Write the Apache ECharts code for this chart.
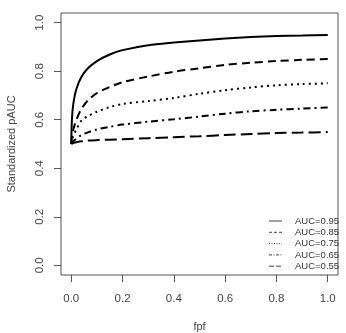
<!DOCTYPE html>
<html>
<head>
<meta charset="utf-8">
<script src="https://cdn.jsdelivr.net/npm/echarts@6/dist/echarts.min.js"></script>
<style>html,body{margin:0;padding:0;background:#fff}#c{width:346px;height:333px}</style>
</head>
<body>
<div id="c"></div>
<script>
var fpf = [0, 0.0025, 0.008, 0.02, 0.04, 0.065, 0.1, 0.15, 0.2, 0.3, 0.4, 0.5, 0.6, 0.7, 0.8, 0.9, 1.0];
var auc95 = [0.50, 0.600, 0.665, 0.727, 0.777, 0.812, 0.842, 0.869, 0.887, 0.907, 0.918, 0.927, 0.935, 0.941, 0.945, 0.947, 0.949];
var auc85 = [0.50, 0.530, 0.560, 0.600, 0.645, 0.680, 0.710, 0.735, 0.755, 0.778, 0.798, 0.812, 0.826, 0.835, 0.842, 0.847, 0.850];
var auc75 = [0.50, 0.515, 0.535, 0.560, 0.597, 0.615, 0.633, 0.652, 0.665, 0.677, 0.690, 0.707, 0.722, 0.733, 0.742, 0.747, 0.750];
var auc65 = [0.50, 0.505, 0.512, 0.522, 0.537, 0.548, 0.560, 0.571, 0.580, 0.592, 0.602, 0.613, 0.625, 0.635, 0.641, 0.646, 0.650];
var auc55 = [0.50, 0.502, 0.504, 0.507, 0.511, 0.514, 0.516, 0.518, 0.520, 0.524, 0.528, 0.532, 0.537, 0.541, 0.545, 0.547, 0.549];
var seriesNames = ['AUC=0.95', 'AUC=0.85', 'AUC=0.75', 'AUC=0.65', 'AUC=0.55'];
var xTicks = [0, 0.2, 0.4, 0.6, 0.8, 1.0];
var yTicks = [0, 0.2, 0.4, 0.6, 0.8, 1.0];

var allData = [auc95, auc85, auc75, auc65, auc55];
var dashes = ['solid', [8, 5], [2, 4], [7, 4, 2, 4], [12, 5]];
var legendDashes = [null, [3, 2], [1, 1.5], [3, 1.5, 1, 1.5], [5, 2]];

function pairs(ys) { return fpf.map(function (x, i) { return [x, ys[i]]; }); }

var font = 'Liberation Sans, Arial, sans-serif';
var legendGraphics = [];
seriesNames.forEach(function (n, i) {
  var y = 221 + 11.3 * i;
  legendGraphics.push({
    type: 'line', silent: true,
    shape: { x1: 269, y1: y, x2: 282, y2: y },
    style: { stroke: '#444', lineWidth: 1, lineDash: legendDashes[i] }
  });
  legendGraphics.push({
    type: 'text', silent: true, x: 295, y: y,
    style: { text: n, fill: '#333', font: '9.5px ' + font, textVerticalAlign: 'middle', verticalAlign: 'middle' }
  });
});

var chart = echarts.init(document.getElementById('c'), null, { renderer: 'canvas' });
chart.setOption({
  animation: false,
  backgroundColor: '#fff',
  grid: { left: 61, right: 8, top: 13, bottom: 58, containLabel: false, outerBoundsMode: 'none',
    show: true, borderColor: '#555', borderWidth: 1, backgroundColor: 'transparent' },
  xAxis: {
    type: 'value', min: -0.04, max: 1.04,
    name: 'fpf', nameLocation: 'middle', nameGap: 46,
    nameTextStyle: { fontFamily: font, fontSize: 11, color: '#444' },
    axisLine: { show: false, onZero: false },
    splitLine: { show: false },
    axisTick: { show: true, inside: false, length: 7, lineStyle: { color: '#555' }, customValues: xTicks },
    axisLabel: { customValues: xTicks, margin: 18, fontFamily: font, fontSize: 11.5, color: '#444',
      formatter: function (v) { return v.toFixed(1); } }
  },
  yAxis: {
    type: 'value', min: -0.04, max: 1.04,
    name: 'Standardized pAUC', nameLocation: 'middle', nameGap: 44, nameRotate: 90,
    nameTextStyle: { fontFamily: font, fontSize: 11, color: '#444' },
    axisLine: { show: false, onZero: false },
    splitLine: { show: false },
    axisTick: { show: true, inside: false, length: 7, lineStyle: { color: '#555' }, customValues: yTicks },
    axisLabel: { customValues: yTicks, rotate: 90, margin: 15, fontFamily: font, fontSize: 11.5, color: '#444',
      formatter: function (v) { return v.toFixed(1); } }
  },
  graphic: legendGraphics,
  series: allData.map(function (d, i) {
    return {
      name: seriesNames[i], type: 'line', data: pairs(d), symbol: 'none', smooth: 0.3,
      lineStyle: { color: '#000', width: 2, type: dashes[i], cap: 'butt' },
      itemStyle: { color: '#000' }
    };
  })
});
</script>
</body>
</html>
